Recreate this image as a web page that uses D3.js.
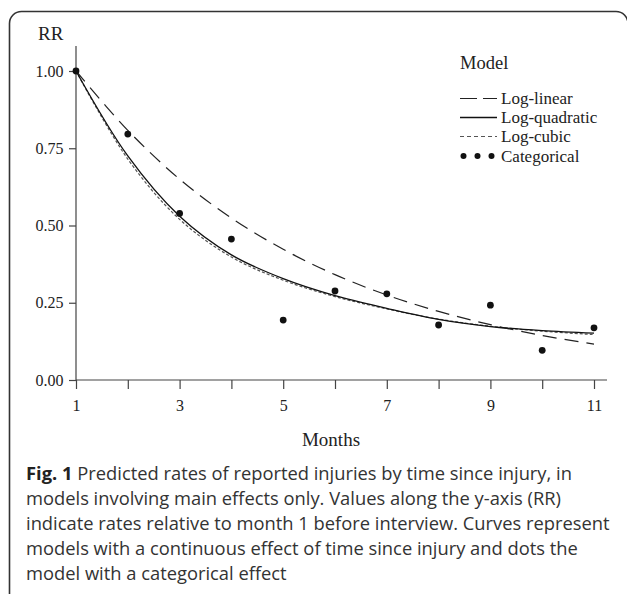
<!DOCTYPE html>
<html>
<head>
<meta charset="utf-8">
<script src="https://cdn.jsdelivr.net/npm/d3@7"></script>
<style>
  html, body { margin: 0; padding: 0; background: #fff; }
  svg { display: block; }
</style>
</head>
<body>
<svg id="chart" width="627" height="594"></svg>
<script>
// ---- data ----
const months = [1, 2, 3, 4, 5, 6, 7, 8, 9, 10, 11];
const logLinear    = [1.00, 0.808, 0.650, 0.524, 0.423, 0.341, 0.275, 0.222, 0.179, 0.144, 0.116];
const logQuadratic = [1.00, 0.725, 0.530, 0.405, 0.328, 0.273, 0.232, 0.196, 0.173, 0.160, 0.152];
const logCubic     = [1.00, 0.715, 0.520, 0.398, 0.323, 0.270, 0.230, 0.197, 0.174, 0.158, 0.147];
const categorical  = [1.00, 0.796, 0.539, 0.456, 0.194, 0.288, 0.279, 0.178, 0.242, 0.096, 0.169];
const yTicks = [0, 0.25, 0.5, 0.75, 1.0];
const xLabelTicks = [1, 3, 5, 7, 9, 11];
const legendNames = ["Log-linear", "Log-quadratic", "Log-cubic", "Categorical"];
const captionBold = "Fig. 1";
const captionLines = [
  " Predicted rates of reported injuries by time since injury, in",
  "models involving main effects only. Values along the y-axis (RR)",
  "indicate rates relative to month 1 before interview. Curves represent",
  "models with a continuous effect of time since injury and dots the",
  "model with a categorical effect"
];

const svg = d3.select("#chart");
const serif = "'Liberation Serif', 'Times New Roman', serif";
const sans = "'Open Sans', 'Noto Sans', sans-serif";

// frame
svg.append("rect")
  .attr("x", 9.5).attr("y", 11.5).attr("width", 618.5).attr("height", 700)
  .attr("rx", 12).attr("ry", 12)
  .attr("fill", "none").attr("stroke", "#333").attr("stroke-width", 1.6);

const x = d3.scaleLinear().domain([1, 11]).range([76, 594]);
const y = d3.scaleLinear().domain([0, 1]).range([380, 71]);

// axes
const xAxis = d3.axisBottom(x).tickValues(months).tickSize(9)
  .tickFormat(d => xLabelTicks.includes(d) ? d : "");
const gx = svg.append("g").attr("transform", "translate(0,380)").call(xAxis);
gx.select(".domain").attr("d", "M76,0H607");
gx.selectAll("text").attr("dy", "0").attr("y", 31)
  .style("font-family", serif).style("font-size", "16px").attr("fill", "#222");

const yAxis = d3.axisLeft(y).tickValues(yTicks).tickSize(7)
  .tickFormat(d3.format(".2f"));
const gy = svg.append("g").attr("transform", "translate(76,0)").call(yAxis);
gy.select(".domain").attr("d", "M0,46V380");
gy.selectAll("text").attr("x", -12.5)
  .style("font-family", serif).style("font-size", "16px").attr("fill", "#222");
svg.selectAll(".domain, .tick line").attr("stroke", "#444").attr("stroke-width", 1.2);

svg.append("text").attr("x", 38).attr("y", 40).text("RR")
  .style("font-family", serif).style("font-size", "19px").attr("fill", "#222");
svg.append("text").attr("x", 331).attr("y", 446).attr("text-anchor", "middle").text("Months")
  .style("font-family", serif).style("font-size", "19px").attr("fill", "#222");

// curves
const line = d3.line().x((d, i) => x(months[i])).y(d => y(d)).curve(d3.curveCatmullRom.alpha(0.5));
svg.append("path").attr("d", line(logLinear)).attr("fill", "none")
  .attr("stroke", "#222").attr("stroke-width", 1.2).attr("stroke-dasharray", "14,8");
svg.append("path").attr("d", line(logCubic)).attr("fill", "none")
  .attr("stroke", "#555").attr("stroke-width", 1.2).attr("stroke-dasharray", "3,2");
svg.append("path").attr("d", line(logQuadratic)).attr("fill", "none")
  .attr("stroke", "#111").attr("stroke-width", 1.3);

svg.append("g").selectAll("circle").data(categorical).join("circle")
  .attr("cx", (d, i) => x(months[i])).attr("cy", d => y(d)).attr("r", 3.4).attr("fill", "#111");

// legend
const lg = svg.append("g");
lg.append("text").attr("x", 460).attr("y", 69).text("Model")
  .style("font-family", serif).style("font-size", "18.5px").attr("fill", "#222");
const ly = [98.5, 117.5, 136.5, 156];
legendNames.forEach((name, i) => {
  lg.append("text").attr("x", 501).attr("y", ly[i] + 5.5).text(name)
    .style("font-family", serif).style("font-size", "17px").attr("fill", "#222");
});
lg.append("path").attr("d", `M460,${ly[0]}H497`).attr("stroke", "#222").attr("stroke-width", 1.2)
  .attr("stroke-dasharray", "17,6");
lg.append("path").attr("d", `M460,${ly[1]}H497`).attr("stroke", "#111").attr("stroke-width", 1.3);
lg.append("path").attr("d", `M460,${ly[2]}H497`).attr("stroke", "#555").attr("stroke-width", 1.2)
  .attr("stroke-dasharray", "4,3");
[463.5, 477.5, 491.5].forEach(cx => lg.append("circle").attr("cx", cx).attr("cy", ly[3]).attr("r", 3).attr("fill", "#111"));

// caption
const cap = svg.append("g").style("font-family", sans).attr("fill", "#333");
const capY = [480, 505, 530, 555, 580];
let fs = 19;
const texts = captionLines.map((t, i) => {
  const tx = cap.append("text").attr("x", 26).attr("y", capY[i]).style("font-size", fs + "px");
  if (i === 0) tx.append("tspan").style("font-weight", "bold").attr("fill", "#222").text(captionBold);
  tx.append("tspan").text(t);
  return tx;
});
// fit the widest line into the available width
const maxW = d3.max(texts, t => t.node().getComputedTextLength());
fs = fs * Math.min(1, 584 / maxW);
texts.forEach(t => t.style("font-size", fs + "px"));
</script>
</body>
</html>
